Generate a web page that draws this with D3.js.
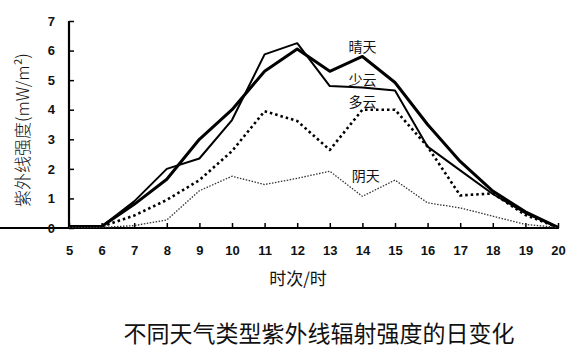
<!DOCTYPE html>
<html><head><meta charset="utf-8">
<script src="https://cdn.jsdelivr.net/npm/d3@7"></script>
<style>body{margin:0;background:#fff}svg{display:block}</style>
</head><body><svg id="c" width="579" height="357"></svg>
<script>
const hours = [5,6,7,8,9,10,11,12,13,14,15,16,17,18,19,20];
const sunny = [0.05,0.05,0.8,1.65,3.0,4.0,5.3,6.05,5.3,5.8,4.92,3.5,2.25,1.25,0.55,0.02];
const fewCloud = [0.05,0.05,0.9,2.0,2.35,3.65,5.87,6.25,4.8,4.75,4.65,2.75,1.95,1.15,0.5,0.02];
const cloudy = [0.05,0.05,0.42,0.95,1.62,2.6,3.95,3.62,2.64,4.0,4.0,2.75,1.1,1.17,0.44,0.02];
const overcast = [0.02,0.02,0.08,0.27,1.26,1.75,1.47,1.68,1.92,1.07,1.62,0.85,0.68,0.4,0.12,0.02];
const seriesNames = ["晴天","少云","多云","阴天"];
const yTicks = [0,1,2,3,4,5,6,7];

const svg = d3.select("#c");
const x = d3.scaleLinear().domain([5,20]).range([69,558]);
const y = d3.scaleLinear().domain([0,7]).range([228,21]);

// axes
const xa = svg.append("g").attr("transform","translate(0,228)")
  .call(d3.axisBottom(x).tickValues(hours).tickFormat(d3.format("d")).tickSizeInner(-5).tickSizeOuter(0).tickPadding(18));
const ya = svg.append("g").attr("transform","translate(69,0)")
  .call(d3.axisLeft(y).tickValues(yTicks).tickFormat(d3.format("d")).tickSizeInner(-5).tickSizeOuter(0).tickPadding(14));
[xa,ya].forEach(a=>{
  a.select(".domain").attr("stroke","#000").attr("stroke-width",2.2);
  a.selectAll(".tick line").attr("stroke","#000").attr("stroke-width",1.5);
  a.selectAll("text").attr("font-family","Liberation Sans, Arial, sans-serif")
    .attr("font-weight","bold").attr("font-size",13).attr("fill","#111");
});
ya.select(".domain").attr("d","M0,"+y(7)+"V"+(y(0)+1));
xa.select(".domain").attr("d","M-1,0H"+(x(20)+1));

const line = d3.line().x((d,i)=>x(hours[i])).y(d=>y(d));
const styles = [
  {data:sunny, w:3, dash:null, c:"#000"},
  {data:fewCloud, w:2, dash:null, c:"#000"},
  {data:cloudy, w:2.6, dash:"2.5,3", c:"#000"},
  {data:overcast, w:1.3, dash:"1.5,1.5", c:"#333"}
];
styles.forEach(s=>{
  svg.append("path").datum(s.data).attr("d",line).attr("fill","none")
    .attr("stroke",s.c).attr("stroke-width",s.w).attr("stroke-linejoin","round")
    .attr("stroke-dasharray",s.dash);
});

// series labels
const labelPos = [[14,5.95],[14,4.85],[14,4.1],[14.1,1.6]];
seriesNames.forEach((n,i)=>{
  svg.append("text").attr("x",x(labelPos[i][0])).attr("y",y(labelPos[i][1]))
    .attr("text-anchor","middle").attr("font-family","Noto Sans CJK SC")
    .attr("font-size",14).attr("fill","#111").text(n);
});

// axis titles
svg.append("text").attr("transform","translate(29,130) rotate(-90)")
  .attr("text-anchor","middle").attr("font-family","Noto Sans CJK SC")
  .attr("font-weight",300).attr("font-size",17).attr("fill","#111")
  .text("紫外线强度(mW/m²)");
svg.append("text").attr("x",298).attr("y",285).attr("text-anchor","middle")
  .attr("font-family","Noto Sans CJK SC").attr("font-size",17).attr("fill","#111").text("时次/时");
svg.append("text").attr("x",319).attr("y",342).attr("text-anchor","middle")
  .attr("font-family","Noto Sans CJK SC").attr("font-size",23).attr("fill","#111")
  .text("不同天气类型紫外线辐射强度的日变化");
</script></body></html>
